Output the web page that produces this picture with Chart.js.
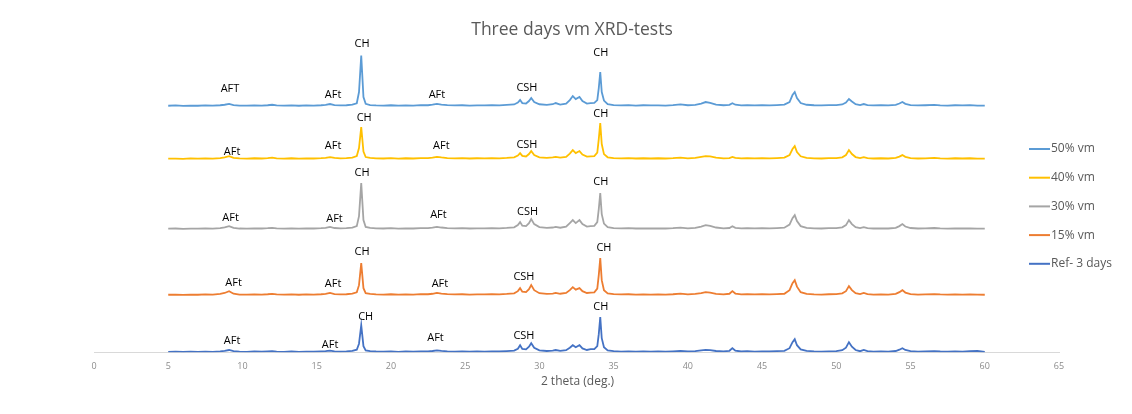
<!DOCTYPE html>
<html>
<head>
<meta charset="utf-8">
<title>Three days vm XRD-tests</title>
<script src="https://cdn.jsdelivr.net/npm/chart.js@4.4.1/dist/chart.umd.min.js"></script>
<style>
  html, body { margin: 0; padding: 0; background: #ffffff; }
  #wrap { width: 1132px; height: 414px; position: relative; }
</style>
</head>
<body>
<div id="wrap"><canvas id="xrd" width="1132" height="414"></canvas></div>
<script>
// 2-theta sampling positions (deg.), shared by every pattern
const theta = [
  5, 5.5, 6, 6.5, 7, 7.5, 8, 8.5, 8.8, 9.1, 9.4, 9.8,
  10.3, 10.8, 11.3, 11.7, 12.0, 12.3, 12.8, 13.3, 13.8, 14.3, 14.8, 15.3, 15.6, 15.9, 16.2, 16.6, 17.0, 17.4, 17.7,
  17.85, 18.0, 18.15, 18.3, 18.6, 19.0,
  19.5, 20.0, 20.5, 21.0, 21.5, 22.0, 22.5, 22.8, 23.1, 23.4, 23.8, 24.3, 24.8, 25.3, 25.8, 26.3, 26.8, 27.3, 27.8, 28.3,
  28.55, 28.7, 28.85, 29.1, 29.3, 29.45, 29.65, 30.0, 30.5, 30.9, 31.1, 31.4, 31.8,
  32.05, 32.25, 32.45, 32.7, 32.9, 33.2, 33.45, 33.7, 33.9, 34.0, 34.1, 34.2, 34.35, 34.6,
  35.0, 35.5, 36.0, 36.5, 37.0, 37.5, 38.0, 38.5, 39.0, 39.5, 40.0, 40.5, 40.9, 41.2, 41.5, 41.9, 42.4, 42.8, 43.0, 43.2, 43.6, 44.0, 44.5, 45.0, 45.5, 46.0, 46.5,
  46.85, 47.05, 47.2, 47.35, 47.6, 48.0, 48.5, 49.0, 49.5, 50.0, 50.4, 50.65, 50.85, 51.05, 51.3, 51.6, 51.85, 52.1, 52.5,
  53.0, 53.5, 54.0, 54.25, 54.45, 54.65, 55.0, 55.5, 56.0, 56.6, 57.0, 57.5, 58.0, 58.5, 59.0, 59.5, 60.0
];

// Intensities (a.u.) of each mix, one value per theta position
const vm50 = [
  0.3, 0.6, 0.2, 0.5, 0.3, 0.6, 0.4, 0.8, 1.3, 2.2, 1.0, 0.5,
  0.4, 0.7, 0.5, 0.8, 1.3, 0.6, 0.4, 0.7, 0.3, 0.6, 0.5, 0.8, 1.2, 2.0, 1.0, 0.6, 0.8, 1.4, 2.8,
  14, 50.5, 9, 2.2, 1.0, 0.7,
  0.5, 0.8, 0.4, 0.7, 0.5, 0.9, 0.8, 1.4, 2.2, 1.5, 0.9, 0.6, 0.8, 0.5, 0.7, 0.6, 0.9, 0.7, 1.1, 1.6,
  3.5, 6.0, 3.0, 2.5, 5.0, 8.0, 4.0, 1.8, 1.2, 1.8, 3.0, 1.5, 2.4,
  6.0, 10.0, 7.0, 9.0, 5.0, 2.5, 3.0, 3.2, 6.0, 18.0, 34.0, 14.0, 5.5, 2.0,
  1.0, 0.6, 0.9, 0.5, 0.8, 0.6, 0.7, 0.5, 0.9, 1.6, 0.8, 1.2, 2.5, 4.0, 3.2, 1.5, 0.8, 1.2, 2.8, 1.3, 0.7, 1.0, 0.6, 0.9, 0.7, 1.0, 1.4,
  4.0, 11.0, 14.0, 8.0, 3.0, 1.3, 0.8, 0.6, 0.9, 1.0, 1.6, 3.5, 7.0, 4.5, 1.8, 1.0, 2.0, 1.0, 0.6,
  0.8, 0.6, 1.2, 2.5, 4.0, 2.2, 1.0, 0.6, 0.8, 1.2, 0.7, 0.5, 0.8, 0.6, 0.9, 0.5, 0.4
];
const vm40 = [
  0.4, 0.5, 0.3, 0.6, 0.4, 0.7, 0.5, 1.0, 1.8, 3.0, 1.3, 0.6,
  0.5, 0.8, 0.6, 0.9, 1.4, 0.7, 0.5, 0.8, 0.4, 0.7, 0.6, 0.9, 1.2, 2.0, 1.1, 0.7, 0.9, 1.5, 3.0,
  11.0, 32.0, 7.5, 2.0, 1.2, 0.8,
  0.6, 0.9, 0.5, 0.8, 0.6, 1.0, 0.9, 1.4, 2.2, 1.6, 1.0, 0.7, 0.9, 0.6, 0.8, 0.7, 1.0, 0.8, 1.2, 1.8,
  3.5, 6.0, 3.2, 2.6, 5.0, 8.0, 4.0, 1.8, 1.2, 1.6, 2.2, 1.4, 2.2,
  5.5, 9.0, 6.0, 8.0, 4.5, 2.5, 2.8, 3.0, 6.5, 20.0, 36.0, 15.0, 5.0, 1.8,
  1.0, 0.7, 0.9, 0.6, 0.8, 0.6, 0.8, 0.6, 0.9, 1.4, 0.8, 1.2, 2.2, 3.0, 2.6, 1.4, 0.8, 1.0, 2.2, 1.2, 0.7, 1.0, 0.7, 0.9, 0.7, 1.0, 1.4,
  4.0, 10.0, 13.0, 7.0, 2.8, 1.3, 0.8, 0.6, 0.9, 1.0, 1.8, 4.0, 9.0, 5.0, 2.0, 1.0, 2.0, 1.0, 0.6,
  0.8, 0.6, 1.2, 2.5, 4.0, 2.2, 1.0, 0.6, 0.8, 1.1, 0.7, 0.5, 0.8, 0.6, 0.8, 0.5, 0.4
];
const vm30 = [
  0.4, 0.6, 0.3, 0.5, 0.4, 0.7, 0.5, 1.0, 1.8, 3.0, 1.3, 0.6,
  0.5, 0.8, 0.6, 0.9, 1.3, 0.7, 0.5, 0.8, 0.4, 0.7, 0.6, 0.9, 1.2, 2.2, 1.1, 0.7, 0.9, 1.5, 3.0,
  13.0, 46.0, 9.0, 2.2, 1.2, 0.8,
  0.6, 0.9, 0.5, 0.8, 0.6, 1.0, 0.9, 1.4, 2.2, 1.6, 1.0, 0.7, 0.9, 0.6, 0.8, 0.7, 1.0, 0.8, 1.2, 1.8,
  4.0, 7.0, 3.5, 3.0, 6.0, 10.0, 5.0, 2.0, 1.3, 1.6, 2.2, 1.4, 2.4,
  6.0, 9.0, 6.0, 9.0, 5.0, 2.5, 3.0, 3.2, 7.0, 20.0, 36.0, 15.0, 5.5, 2.0,
  1.0, 0.7, 0.9, 0.6, 0.8, 0.6, 0.8, 0.6, 0.9, 1.5, 0.8, 1.3, 2.6, 4.0, 3.2, 1.6, 0.8, 1.1, 2.8, 1.3, 0.7, 1.0, 0.7, 0.9, 0.7, 1.0, 1.4,
  4.5, 11.0, 14.0, 8.0, 3.0, 1.3, 0.8, 0.6, 0.9, 1.0, 1.8, 4.0, 9.0, 5.0, 2.0, 1.0, 2.0, 1.0, 0.6,
  0.8, 0.6, 1.3, 3.0, 5.0, 2.6, 1.1, 0.6, 0.8, 1.1, 0.7, 0.5, 0.8, 0.6, 0.8, 0.5, 0.4
];
const vm15 = [
  0.4, 0.6, 0.3, 0.5, 0.4, 0.7, 0.5, 1.2, 2.2, 4.0, 1.5, 0.6,
  0.5, 0.8, 0.6, 0.9, 1.3, 0.7, 0.5, 0.8, 0.4, 0.7, 0.6, 0.9, 1.2, 2.2, 1.1, 0.7, 0.9, 1.5, 2.8,
  10.0, 32.0, 7.0, 2.0, 1.2, 0.8,
  0.6, 0.9, 0.5, 0.8, 0.6, 1.0, 0.9, 1.4, 2.2, 1.6, 1.0, 0.7, 0.9, 0.6, 0.8, 0.7, 1.0, 0.8, 1.2, 1.8,
  4.0, 7.0, 3.5, 3.0, 6.0, 10.0, 5.0, 2.0, 1.3, 1.6, 2.2, 1.4, 2.2,
  5.0, 8.0, 5.5, 7.0, 4.0, 2.2, 2.6, 2.8, 6.5, 20.0, 37.0, 15.0, 5.0, 1.8,
  1.0, 0.7, 0.9, 0.6, 0.8, 0.6, 0.8, 0.6, 0.9, 1.5, 0.8, 1.2, 2.0, 3.0, 2.5, 1.3, 0.8, 1.4, 4.0, 1.6, 0.7, 1.0, 0.7, 0.9, 0.7, 1.0, 1.4,
  5.0, 12.0, 15.0, 8.5, 3.0, 1.3, 0.8, 0.6, 0.9, 1.0, 1.8, 4.0, 9.0, 5.0, 2.0, 1.0, 2.2, 1.0, 0.6,
  0.8, 0.6, 1.3, 3.0, 5.0, 2.6, 1.1, 0.6, 0.8, 1.1, 0.7, 0.5, 0.8, 0.6, 0.8, 0.5, 0.4
];
const ref3d = [
  0.3, 0.5, 0.2, 0.5, 0.3, 0.6, 0.4, 0.8, 1.3, 2.2, 1.0, 0.5,
  0.4, 0.7, 0.5, 0.8, 1.1, 0.6, 0.4, 0.7, 0.3, 0.6, 0.5, 0.8, 1.0, 1.6, 0.9, 0.6, 0.8, 1.3, 2.5,
  8.5, 27.0, 6.0, 1.8, 1.0, 0.7,
  0.5, 0.8, 0.4, 0.7, 0.5, 0.9, 0.8, 1.2, 1.8, 1.3, 0.9, 0.6, 0.8, 0.5, 0.7, 0.6, 0.9, 0.7, 1.1, 1.6,
  3.5, 7.0, 3.2, 2.8, 5.5, 9.0, 4.5, 1.8, 1.2, 1.6, 2.2, 1.4, 2.0,
  4.5, 7.0, 5.0, 7.0, 3.8, 2.2, 3.0, 3.0, 6.0, 18.0, 35.0, 14.0, 5.0, 1.8,
  1.0, 0.6, 0.9, 0.5, 0.8, 0.6, 0.7, 0.5, 0.9, 1.3, 0.8, 1.1, 1.8, 2.4, 2.0, 1.2, 0.8, 1.4, 4.0, 1.6, 0.7, 1.0, 0.6, 0.9, 0.7, 1.0, 1.4,
  4.0, 10.0, 13.0, 7.0, 2.8, 1.3, 0.8, 0.6, 0.9, 1.0, 2.0, 4.5, 10.0, 5.5, 2.2, 1.0, 2.2, 1.0, 0.6,
  0.8, 0.6, 1.2, 2.5, 4.0, 2.2, 1.0, 0.6, 0.8, 1.1, 0.7, 0.5, 0.8, 0.6, 1.0, 1.2, 0.4
];

// Series names (legend order, top to bottom) and their vertical stacking offsets (a.u.)
const seriesNames = ['50% vm', '40% vm', '30% vm', '15% vm', 'Ref- 3 days'];
const seriesValues = [vm50, vm40, vm30, vm15, ref3d];
const seriesOffsets = [246, 193, 123, 57, 0];
const seriesColors = ['#5B9BD5', '#FFC000', '#A5A5A5', '#ED7D31', '#4472C4'];

// Phase labels: [text, 2-theta, height above the pattern baseline (a.u.)]
const phaseLabels = [
  [['AFT', 9.16, 17], ['AFt', 16.1, 11], ['CH', 18.05, 62], ['AFt', 23.1, 11], ['CSH', 29.16, 18], ['CH', 34.14, 53]],
  [['AFt', 9.3, 7], ['AFt', 16.1, 13], ['CH', 18.2, 41], ['AFt', 23.4, 13], ['CSH', 29.16, 14], ['CH', 34.14, 45]],
  [['AFt', 9.2, 11], ['AFt', 16.2, 10], ['CH', 18.05, 56], ['AFt', 23.2, 14], ['CSH', 29.2, 17], ['CH', 34.14, 47]],
  [['AFt', 9.4, 12], ['AFt', 16.1, 11], ['CH', 18.05, 43], ['AFt', 23.3, 11], ['CSH', 28.96, 18], ['CH', 34.35, 47]],
  [['AFt', 9.3, 11], ['AFt', 15.9, 7], ['CH', 18.3, 35], ['AFt', 23.0, 14], ['CSH', 28.96, 16], ['CH', 34.14, 45]]
];

const xTicks = [0, 5, 10, 15, 20, 25, 30, 35, 40, 45, 50, 55, 60, 65];
const chartTitle = 'Three days vm XRD-tests';
const xTitle = '2 theta (deg.)';

const FONT = "'Open Sans', 'Liberation Sans', sans-serif";

// Datasets drawn bottom pattern first so upper traces paint over it
const datasets = seriesNames.map((name, s) => ({
  label: name,
  data: theta.map((t, i) => ({ x: t, y: seriesValues[s][i] + seriesOffsets[s] })),
  borderColor: seriesColors[s],
  backgroundColor: seriesColors[s],
  borderWidth: 1.8,
  pointRadius: 0,
  tension: 0,
  fill: false
})).reverse();

const overlay = {
  id: 'overlay',
  afterDatasetsDraw(chart) {
    const { ctx, scales: { x, y }, chartArea } = chart;
    ctx.save();
    ctx.textAlign = 'center';
    ctx.textBaseline = 'middle';
    // phase labels above peaks
    ctx.font = "11px " + FONT;
    ctx.fillStyle = '#000000';
    phaseLabels.forEach((list, s) => {
      list.forEach(([txt, tx, h]) => {
        ctx.fillText(txt, x.getPixelForValue(tx), y.getPixelForValue(seriesOffsets[s] + h));
      });
    });
    // chart title
    ctx.font = "17.5px " + FONT;
    ctx.fillStyle = '#595959';
    ctx.fillText(chartTitle, 572, 30);
    // x-axis title
    ctx.font = "12px " + FONT;
    ctx.fillText(xTitle, (chartArea.left + chartArea.right) / 2 + 1, 382);
    // legend
    ctx.font = "12px " + FONT;
    ctx.textAlign = 'left';
    seriesNames.forEach((name, s) => {
      const ly = 149 + s * 28.7;
      ctx.strokeStyle = seriesColors[s];
      ctx.lineWidth = 2;
      ctx.beginPath();
      ctx.moveTo(1029, ly);
      ctx.lineTo(1050, ly);
      ctx.stroke();
      ctx.fillStyle = '#595959';
      ctx.fillText(name, 1051, ly);
    });
    ctx.restore();
  }
};

new Chart(document.getElementById('xrd'), {
  type: 'line',
  data: { datasets },
  options: {
    responsive: false,
    animation: false,
    events: [],
    layout: { padding: { left: 94, right: 73, top: 42, bottom: 33 } },
    plugins: {
      legend: { display: false },
      title: { display: false },
      tooltip: { enabled: false }
    },
    scales: {
      x: {
        type: 'linear',
        min: 0,
        max: 65,
        afterBuildTicks(axis) { axis.ticks = xTicks.map(v => ({ value: v })); },
        grid: { display: false, drawTicks: false },
        border: { display: true, color: '#D9D9D9', width: 1 },
        ticks: { color: '#8C8C8C', font: { size: 9, family: FONT }, padding: 9, maxRotation: 0, autoSkip: false },
        title: { display: false }
      },
      y: {
        type: 'linear',
        min: 0,
        max: 310,
        display: false
      }
    }
  },
  plugins: [overlay]
});
</script>
</body>
</html>
